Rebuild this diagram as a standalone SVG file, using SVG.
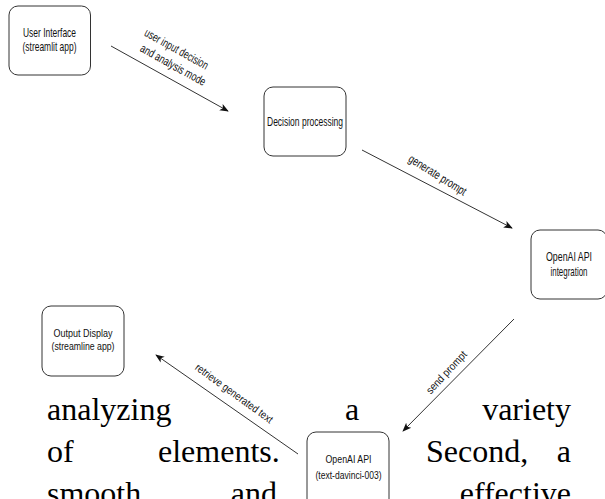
<svg xmlns="http://www.w3.org/2000/svg" width="605" height="499" viewBox="0 0 605 499">
<style>
.bg{fill:#ffffff}
.node rect{fill:#ffffff;stroke:#333333;stroke-width:1}
.nt{font-family:"Liberation Sans",Arial,sans-serif;fill:#111111;text-anchor:middle}
.el{font-family:"Liberation Sans",Arial,sans-serif;fill:#111111;text-anchor:middle;font-size:12px}
.edge{stroke:#333333;stroke-width:1;fill:none;marker-end:url(#arr)}
.body{font-family:"Liberation Serif","Times New Roman",serif;font-size:32px;fill:#000000}
</style>
<defs>
<marker id="arr" viewBox="0 0 10 10" refX="9" refY="5" markerWidth="9" markerHeight="9" markerUnits="userSpaceOnUse" orient="auto">
<path d="M0,1 L10,5 L0,9 L2.5,5 z" fill="#111111"/>
</marker>
</defs>
<rect class="bg" x="0" y="0" width="605" height="499"/>
<g id="body-text">
<text class="body" x="47" y="420">analyzing</text>
<text class="body" x="345" y="420">a</text>
<text class="body" x="571" y="420" text-anchor="end">variety</text>
<text class="body" x="47" y="462">of</text>
<text class="body" x="158" y="462">elements.</text>
<text class="body" x="426" y="462">Second,</text>
<text class="body" x="571" y="462" text-anchor="end">a</text>
<text class="body" x="47" y="504">smooth</text>
<text class="body" x="277" y="504" text-anchor="end">and</text>
<text class="body" x="571" y="504" text-anchor="end">effective</text>
</g>
<g id="connectors">
<line class="edge" x1="111" y1="46" x2="228" y2="111"/>
<line class="edge" x1="362" y1="150" x2="512" y2="228"/>
<line class="edge" x1="514" y1="319" x2="403" y2="431"/>
<line class="edge" x1="298" y1="454" x2="156" y2="355"/>
<text class="el" transform="translate(176.5,49) rotate(29)" y="4" textLength="71" lengthAdjust="spacingAndGlyphs">user input decision</text>
<text class="el" transform="translate(173,65) rotate(29)" y="4" textLength="73" lengthAdjust="spacingAndGlyphs">and analysis mode</text>
<text class="el" transform="translate(437.5,175) rotate(32)" y="4" textLength="66" lengthAdjust="spacingAndGlyphs">generate prompt</text>
<text class="el" transform="translate(446.5,372.5) rotate(-47)" y="3.5" textLength="54" lengthAdjust="spacingAndGlyphs" style="font-size:11px">send prompt</text>
<text class="el" transform="translate(234,393.5) rotate(36)" y="3.5" textLength="93" lengthAdjust="spacingAndGlyphs" style="font-size:11px">retrieve generated text</text>
</g>
<g id="node-ui" class="node">
<rect x="9" y="6" width="81.5" height="69" rx="9"/>
<text class="nt" x="49.5" y="37" font-size="13.5" textLength="53" lengthAdjust="spacingAndGlyphs">User Interface</text>
<text class="nt" x="49.5" y="51" font-size="13.5" textLength="54" lengthAdjust="spacingAndGlyphs">(streamlit app)</text>
</g>
<g id="node-decision" class="node">
<rect x="264" y="87" width="82" height="69" rx="9"/>
<text class="nt" x="305" y="126" font-size="13.5" textLength="76" lengthAdjust="spacingAndGlyphs">Decision processing</text>
</g>
<g id="node-openai-integration" class="node">
<rect x="531" y="230" width="76" height="69" rx="9"/>
<text class="nt" x="569" y="261" font-size="13" textLength="46" lengthAdjust="spacingAndGlyphs">OpenAI API</text>
<text class="nt" x="569" y="276" font-size="13" textLength="37" lengthAdjust="spacingAndGlyphs">integration</text>
</g>
<g id="node-output" class="node">
<rect x="42" y="306" width="82" height="70" rx="9"/>
<text class="nt" x="83" y="336.5" font-size="11" textLength="59" lengthAdjust="spacingAndGlyphs">Output Display</text>
<text class="nt" x="83" y="349.5" font-size="11" textLength="63" lengthAdjust="spacingAndGlyphs">(streamline app)</text>
</g>
<g id="node-openai-api" class="node">
<rect x="307" y="432" width="82" height="80" rx="9"/>
<text class="nt" x="348.5" y="463" font-size="11" textLength="46" lengthAdjust="spacingAndGlyphs">OpenAI API</text>
<text class="nt" x="348.5" y="479" font-size="11" textLength="66" lengthAdjust="spacingAndGlyphs">(text-davinci-003)</text>
</g>
</svg>
